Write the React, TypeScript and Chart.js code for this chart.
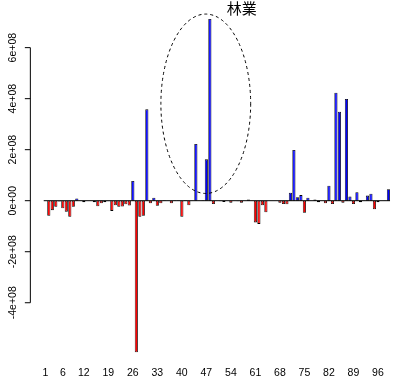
import React, { useEffect, useRef } from 'react';
import { Chart, registerables } from 'chart.js';

Chart.register(...registerables);

const categories = [
  '1','2','3','4','5','6','7','8','9','10','11','12','13','14','15','16','17','18','19','20',
  '21','22','23','24','25','26','27','28','29','30','31','32','33','34','35','36','37','38','39','40',
  '41','42','43','44','45','46','47','48','49','50','51','52','53','54','55','56','57','58','59','60',
  '61','62','63','64','65','66','67','68','69','70','71','72','73','74','75','76','77','78','79','80',
  '81','82','83','84','85','86','87','88','89','90','91','92','93','94','95','96','97','98','99',
];

const values = [
  0, -59e6, -37e6, -24e6, -3e6, -30e6, -43e6, -63e6, -24e6, 9e6,
  1e6, -6e6, 0, 0, -6e6, -22e6, -10e6, -6e6, -2e6, -40e6,
  -18e6, -24e6, -23e6, -14e6, -19e6, 77e6, -594e6, -63e6, -59e6, 358e6,
  -10e6, 12e6, -20e6, -10e6, 2e6, 1e6, -10e6, 2e6, 2e6, -63e6,
  2e6, -18e6, 1e6, 222e6, 1e6, 2e6, 162e6, 712e6, -13e6, 0,
  -2e6, -5e6, 0, -8e6, 0, -2e6, -8e6, 0, 5e6, 1e6,
  -85e6, -91e6, -18e6, -45e6, 0, 0, 0, -8e6, -13e6, -14e6,
  31e6, 199e6, 14e6, 22e6, -47e6, 12e6, 0, 5e6, -6e6, 0,
  -10e6, 59e6, -13e6, 423e6, 349e6, -8e6, 399e6, 16e6, -13e6, 33e6,
  -6e6, 1e6, 20e6, 27e6, -34e6, -6e6, 0, 1e6, 45e6,
];

const shownXLabels = ['1','6','12','19','26','33','40','47','54','61','68','75','82','89','96'];
const yTickValues = [-4e8, -2e8, 0, 2e8, 4e8, 6e8];
const yTickLabels = ['-4e+08', '-2e+08', '0e+00', '2e+08', '4e+08', '6e+08'];
const title = '林業';

const POS_COLOR = '#0000FF';
const NEG_COLOR = '#FF0000';
const LABEL_FONT = '10.5px "Liberation Sans", Arial, Helvetica, sans-serif';

const decorPlugin = {
  id: 'rDecor',
  beforeDatasetsDraw(chart: any) {
    const { ctx } = chart;
    const meta = chart.getDatasetMeta(0);
    const y = chart.scales.y.getPixelForValue(0);
    const first = meta.data[0];
    const last = meta.data[meta.data.length - 1];
    ctx.save();
    ctx.strokeStyle = '#000';
    ctx.lineWidth = 1;
    ctx.beginPath();
    ctx.moveTo(first.x - first.width / 2, y);
    ctx.lineTo(last.x + last.width / 2, y);
    ctx.stroke();
    ctx.restore();
  },
  afterDraw(chart: any) {
    const { ctx, chartArea } = chart;
    const xs = chart.scales.x;
    const ys = chart.scales.y;
    ctx.save();
    // y axis
    const axisX = chartArea.left - 13.2;
    ctx.strokeStyle = '#000';
    ctx.lineWidth = 1;
    ctx.beginPath();
    ctx.moveTo(axisX, ys.getPixelForValue(yTickValues[0]));
    ctx.lineTo(axisX, ys.getPixelForValue(yTickValues[yTickValues.length - 1]));
    yTickValues.forEach((v) => {
      const py = ys.getPixelForValue(v);
      ctx.moveTo(axisX, py);
      ctx.lineTo(axisX - 5.5, py);
    });
    ctx.stroke();
    ctx.fillStyle = '#000';
    ctx.font = LABEL_FONT;
    yTickValues.forEach((v, i) => {
      const py = ys.getPixelForValue(v);
      ctx.save();
      ctx.translate(axisX - 14, py);
      ctx.rotate(-Math.PI / 2);
      ctx.textAlign = 'center';
      ctx.textBaseline = 'alphabetic';
      ctx.fillText(yTickLabels[i], 0, 0);
      ctx.restore();
    });
    // x labels
    ctx.textAlign = 'center';
    ctx.textBaseline = 'alphabetic';
    categories.forEach((c, i) => {
      if (shownXLabels.includes(c)) {
        ctx.fillText(c, xs.getPixelForValue(i), chartArea.bottom + 10.6);
      }
    });
    // dashed ellipse
    const cx = xs.getPixelForValue(45.83);
    const cy = ys.getPixelForValue(3.8e8);
    const rx = Math.abs(xs.getPixelForValue(45.83 + 12.82) - cx);
    const ry = Math.abs(ys.getPixelForValue(3.8e8 + 3.516e8) - cy);
    ctx.setLineDash([3, 3]);
    ctx.lineWidth = 1;
    ctx.strokeStyle = '#000';
    ctx.beginPath();
    ctx.ellipse(cx, cy, rx, ry, 0, 0, Math.PI * 2);
    ctx.stroke();
    ctx.setLineDash([]);
    // title
    ctx.font = '15px "Noto Sans CJK JP", "Noto Sans CJK SC", sans-serif';
    ctx.textAlign = 'center';
    ctx.textBaseline = 'middle';
    ctx.fillText(title, xs.getPixelForValue(56.1), chartArea.top + 2.8);
    ctx.restore();
  },
};

export default function App() {
  const ref = useRef<HTMLCanvasElement | null>(null);
  useEffect(() => {
    if (!ref.current) return;
    const chart = new Chart(ref.current, {
      type: 'bar',
      data: {
        labels: categories,
        datasets: [
          {
            data: values,
            backgroundColor: values.map((v) => (v >= 0 ? POS_COLOR : NEG_COLOR)),
            borderColor: '#000',
            borderWidth: 0.8,
            borderSkipped: false,
            categoryPercentage: 1,
            barPercentage: 0.9,
          },
        ],
      },
      options: {
        responsive: true,
        maintainAspectRatio: false,
        animation: false,
        layout: { padding: { left: 43.55, right: 8.8, top: 5.8, bottom: 22.5 } },
        scales: {
          x: { display: false },
          y: { display: false, min: -6.46e8, max: 7.64e8 },
        },
        plugins: {
          legend: { display: false },
          tooltip: { enabled: false },
          title: { display: false },
        },
      },
      plugins: [decorPlugin],
    });
    return () => chart.destroy();
  }, []);
  return (
    <div style={{ position: 'fixed', left: 0, top: 0, width: 399, height: 388, background: '#fff' }}>
      <canvas ref={ref} />
    </div>
  );
}
